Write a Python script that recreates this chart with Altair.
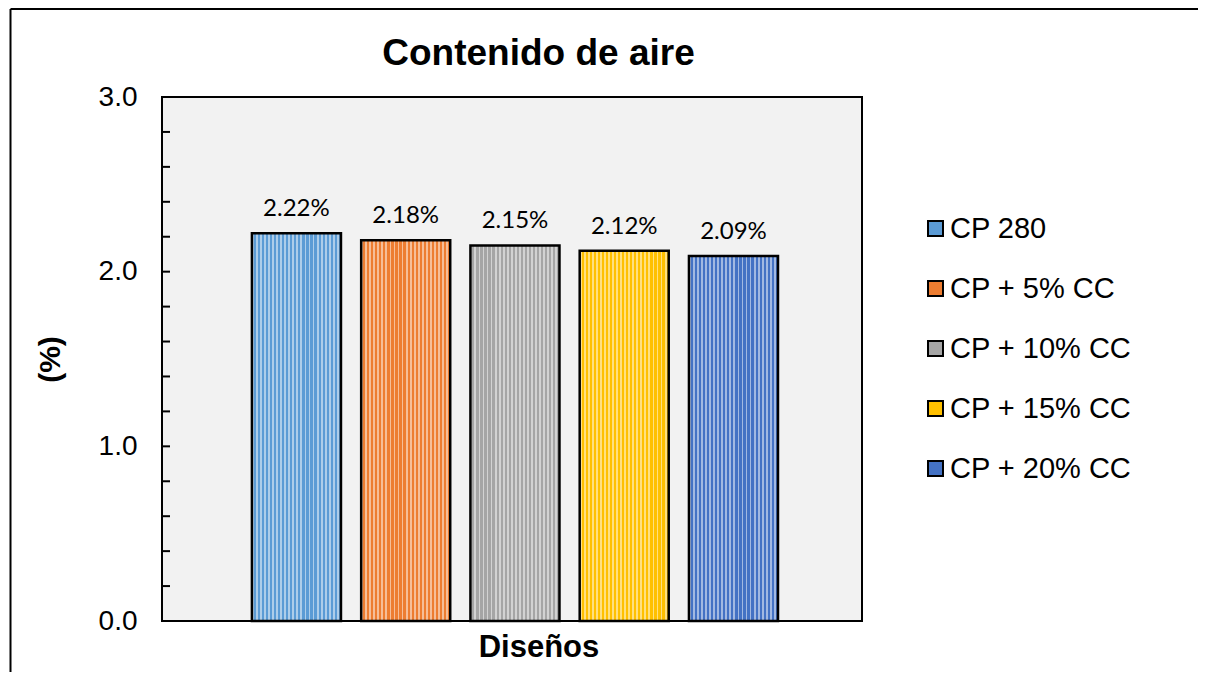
import altair as alt
import pandas as pd

# ---- data ----
series = ["CP 280", "CP + 5% CC", "CP + 10% CC", "CP + 15% CC", "CP + 20% CC"]
values = [2.22, 2.18, 2.15, 2.12, 2.09]
colors = ["#5b9bd5", "#ed7d31", "#a5a5a5", "#ffc000", "#4472c4"]
y_major = [0.0, 1.0, 2.0, 3.0]
y_minor = [0.0, 0.2, 0.4, 0.6, 0.8, 1.0, 1.2, 1.4, 1.6, 1.8, 2.0,
           2.2, 2.4, 2.6, 2.8, 3.0]
chart_title = "Contenido de aire"

df = pd.DataFrame({"serie": series, "valor": values})
ticks_df = pd.DataFrame({"t": y_minor})
frame_df = pd.DataFrame({"a": [0]})
title_df = pd.DataFrame({"txt": [chart_title]})

FONT = "Liberation Sans"

# vertical stripe pattern (white overlay)
n_str = 22
stops = []
for i in range(n_str):
    a = i / n_str
    m = (i + 0.45) / n_str
    b = (i + 1) / n_str
    stops += [
        alt.GradientStop(offset=a, color="rgba(255,255,255,0.5)"),
        alt.GradientStop(offset=m, color="rgba(255,255,255,0.5)"),
        alt.GradientStop(offset=m, color="rgba(255,255,255,0)"),
        alt.GradientStop(offset=b, color="rgba(255,255,255,0)"),
    ]
stripe = alt.Gradient(gradient="linear", stops=stops, x1=0, x2=1, y1=0, y2=0)

xenc = alt.X(
    "serie:N",
    sort=series,
    scale=alt.Scale(paddingInner=0.185, paddingOuter=0.796, align=0.517),
    axis=alt.Axis(labels=False, ticks=False, domain=False, title="Diseños",
                  titleFont=FONT, titleFontSize=31, titleFontWeight="bold",
                  titleColor="black", titleX=376.5, titlePadding=11),
)
yscale = alt.Scale(domain=[0, 3], nice=False, zero=True)
yenc = alt.Y(
    "valor:Q",
    scale=yscale,
    axis=alt.Axis(values=y_major, format=".1f", grid=False, ticks=False,
                  domain=False, labelFont=FONT, labelFontSize=28,
                  labelColor="black", labelPadding=25, title="(%)",
                  titleFont=FONT, titleFontSize=30, titleFontWeight="bold",
                  titleColor="black", titlePadding=33),
)

base = alt.Chart(df)

bars = base.mark_bar(opacity=1).encode(
    x=xenc,
    y=yenc,
    color=alt.Color(
        "serie:N",
        sort=series,
        scale=alt.Scale(domain=series, range=colors),
        legend=alt.Legend(
            orient="none", legendX=759, legendY=117, title=None,
            labelFont=FONT, labelFontSize=29, labelColor="black",
            labelLimit=400,
            symbolType="square", symbolSize=225, symbolStrokeColor="black",
            symbolStrokeWidth=2, symbolOpacity=1, rowPadding=30,
            labelOffset=0, padding=0,
        ),
    ),
)

overlay = base.mark_bar(fill=stripe, stroke="black", strokeWidth=2.5).encode(
    x=alt.X("serie:N", sort=series), y=alt.Y("valor:Q")
)

labels = base.transform_calculate(
    lab="format(datum.valor, '.2f') + '%'"
).mark_text(font="Lato", fontSize=24, color="black", baseline="alphabetic",
            dy=-17).encode(
    x=alt.X("serie:N", sort=series), y=alt.Y("valor:Q"), text="lab:N"
)

minor = alt.Chart(ticks_df).mark_tick(
    orient="horizontal", color="black", thickness=2, size=8, opacity=1
).encode(y=alt.Y("t:Q", scale=yscale), x=alt.value(4))

title_mark = alt.Chart(title_df).mark_text(
    font=FONT, fontSize=37, fontWeight="bold", color="black",
    align="center", baseline="alphabetic"
).encode(x=alt.value(376.5), y=alt.value(-32), text="txt:N")

vline = alt.Chart(frame_df).mark_rule(color="black", strokeWidth=2).encode(
    x=alt.value(-151.5), y=alt.value(-88), y2=alt.value(700)
)
hline = alt.Chart(frame_df).mark_rule(color="black", strokeWidth=2).encode(
    x=alt.value(-151.5), x2=alt.value(1200), y=alt.value(-88)
)

chart = alt.layer(bars, overlay, labels, minor, title_mark, vline, hline).properties(
    width=700,
    height=524,
    background="white",
    autosize=alt.AutoSizeParams(type="none"),
    padding={"left": 154, "top": 89, "right": 336, "bottom": 51},
).configure_view(
    stroke="black", strokeWidth=2, fill="#f2f2f2"
)

chart.save("out.html", embed_options={"renderer": "svg", "actions": False})
